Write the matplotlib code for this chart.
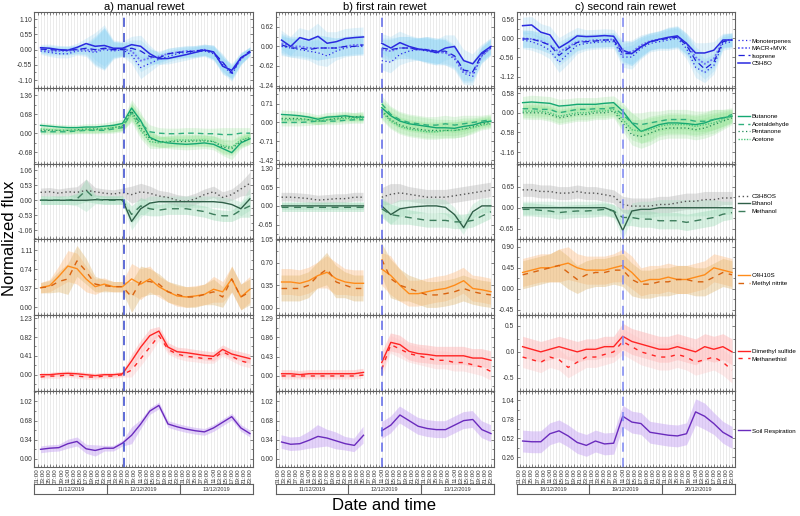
import numpy as np
import matplotlib.pyplot as plt
from matplotlib.ticker import MultipleLocator, AutoMinorLocator

plt.rcParams['font.family'] = ['Liberation Sans', 'DejaVu Sans']

# sample hours (0 = 00:00 of the first day, 3 days per panel)
hours = [2, 5, 8, 11, 14, 17, 20, 23, 26, 29, 32, 35, 38, 41, 44, 47, 50, 53, 56, 59, 62, 65, 68, 71]
nan = np.nan

titles = ['a) manual rewet', 'b) first rain rewet', 'c) second rain rewet']
days = [['11/12/2019', '12/12/2019', '13/12/2019'],
        ['11/12/2019', '12/12/2019', '13/12/2019'],
        ['18/12/2019', '19/12/2019', '20/12/2019']]
time_labels = ['%02d:00' % h for h in range(1, 24, 2)] * 3
rewet_hour = [29.5, 35, 35]

# ---- row 1: terpenes ----
mono_a = [-0.05, -0.1, -0.15, -0.15, -0.05, -0.05, -0.1, 0.0, -0.05, 0.0, -0.2, -0.65, -0.5, -0.35, -0.25, -0.15, -0.1, -0.08, -0.05, -0.15, -0.55, -0.9, -0.35, -0.05]
macr_a = [0.0, -0.05, -0.05, -0.05, 0.0, 0.0, -0.05, 0.05, 0.0, 0.02, -0.05, -0.4, -0.3, -0.25, -0.15, -0.1, -0.05, -0.05, 0.0, -0.1, -0.5, -0.8, -0.35, -0.05]
iso_a = [0.02, 0.0, -0.02, -0.02, 0.0, 0.05, 0.0, 0.05, 0.0, 0.0, 0.05, -0.05, -0.25, -0.3, -0.15, -0.1, -0.08, -0.05, 0.0, -0.1, -0.45, -0.85, -0.3, -0.05]
c5h8o_a = [0.07, 0.05, 0.0, -0.02, 0.08, 0.22, 0.12, 0.15, 0.05, 0.05, 0.18, 0.12, -0.15, -0.33, -0.32, -0.25, -0.18, -0.1, -0.02, -0.08, -0.6, -0.75, -0.3, -0.1]
spread_a1 = [0.12, 0.15, 0.15, 0.15, 0.15, 0.2, 0.5, 0.75, 0.3, 0.25, 0.3, 0.4, 0.3, 0.2, 0.2, 0.2, 0.2, 0.2, 0.2, 0.25, 0.3, 0.25, 0.2, 0.15]

mono_b = [0.0, -0.05, -0.1, -0.15, -0.2, -0.3, -0.15, -0.05, 0.0, 0.0, nan, -0.45, -0.5, -0.25, -0.15, -0.1, -0.15, -0.2, -0.2, -0.4, -0.85, -0.95, -0.3, -0.05]
macr_b = [0.1, 0.0, 0.0, -0.05, -0.05, -0.05, -0.05, 0.0, 0.05, 0.05, nan, -0.1, -0.15, -0.05, -0.05, -0.1, -0.1, -0.15, -0.2, -0.35, -0.8, -0.85, -0.3, -0.05]
iso_b = [0.05, -0.05, -0.05, -0.1, -0.05, -0.05, -0.05, 0.0, 0.0, 0.05, nan, -0.05, -0.1, -0.05, -0.05, -0.1, -0.1, -0.15, -0.15, -0.3, -0.75, -0.8, -0.25, 0.0]
c5h8o_b = [0.2, 0.0, 0.28, 0.2, 0.32, 0.1, 0.15, 0.25, 0.28, 0.3, nan, 0.1, -0.05, 0.12, 0.0, -0.08, -0.12, -0.2, -0.05, 0.0, -0.45, -0.55, -0.2, 0.0]
spread_b1 = [0.3, 0.3, 0.3, 0.3, 0.4, 0.35, 0.3, 0.3, 0.3, 0.3, nan, 0.3, 0.35, 0.35, 0.35, 0.35, 0.4, 0.4, 0.4, 0.35, 0.35, 0.3, 0.25, 0.25]

mono_c = [-0.05, -0.1, -0.2, -0.35, -0.7, -0.45, -0.2, -0.15, -0.12, -0.1, -0.1, -0.55, -0.55, -0.3, -0.15, -0.1, -0.05, 0.0, -0.3, -0.85, -1.0, -0.8, -0.15, -0.1]
macr_c = [0.0, -0.02, -0.08, -0.2, -0.4, -0.25, -0.1, -0.08, -0.05, -0.05, -0.03, -0.4, -0.4, -0.2, -0.08, -0.03, 0.0, 0.05, -0.15, -0.55, -0.75, -0.6, -0.08, -0.03]
iso_c = [-0.02, -0.02, -0.1, -0.2, -0.5, -0.3, -0.12, -0.1, -0.08, -0.05, -0.05, -0.45, -0.45, -0.25, -0.1, -0.05, 0.0, 0.03, -0.2, -0.65, -0.9, -0.7, -0.1, -0.05]
c5h8o_c = [0.37, 0.39, 0.18, 0.1, -0.28, -0.12, 0.07, 0.05, 0.06, 0.08, 0.06, -0.35, -0.45, -0.25, -0.1, -0.03, 0.03, 0.07, -0.15, -0.43, -0.43, -0.35, -0.05, -0.05]
spread_c1 = [0.25, 0.25, 0.25, 0.25, 0.3, 0.3, 0.25, 0.2, 0.2, 0.2, 0.2, 0.3, 0.35, 0.3, 0.25, 0.25, 0.3, 0.3, 0.3, 0.3, 0.3, 0.25, 0.2, 0.2]

# ---- row 2: carbonyls ----
but_a = [0.28, 0.25, 0.22, 0.2, 0.2, 0.22, 0.22, 0.25, 0.28, 0.35, 0.9, 0.45, -0.15, -0.3, -0.35, -0.38, -0.4, -0.38, -0.35, -0.4, -0.55, -0.7, -0.35, -0.2]
ald_a = [0.05, 0.05, 0.05, 0.05, 0.08, 0.1, 0.1, 0.1, 0.15, 0.2, 0.75, 0.35, 0.05, 0.0, -0.02, -0.02, 0.0, 0.0, -0.02, -0.02, -0.05, -0.05, 0.0, 0.0]
pen_a = [0.1, 0.1, 0.1, 0.1, 0.12, 0.15, 0.15, 0.15, 0.2, 0.25, 0.8, 0.2, -0.2, -0.3, -0.3, -0.3, -0.3, -0.28, -0.28, -0.3, -0.5, -0.55, -0.3, -0.2]
ace_a = [0.15, 0.12, 0.1, 0.1, 0.1, 0.12, 0.12, 0.15, 0.2, 0.25, 0.7, 0.1, -0.3, -0.35, -0.3, -0.25, -0.25, -0.25, -0.25, -0.3, -0.45, -0.5, -0.25, -0.15]
spread_a2 = [0.1, 0.1, 0.1, 0.1, 0.1, 0.12, 0.12, 0.12, 0.15, 0.15, 0.3, 0.3, 0.25, 0.2, 0.2, 0.2, 0.2, 0.2, 0.2, 0.2, 0.25, 0.25, 0.2, 0.2]

but_b = [0.3, 0.28, 0.25, 0.2, 0.12, 0.2, 0.22, 0.25, 0.2, 0.2, nan, 0.55, 0.25, 0.05, -0.05, -0.1, -0.15, -0.2, -0.2, -0.22, -0.15, -0.1, 0.0, 0.05]
ald_b = [0.0, 0.0, 0.0, 0.02, 0.05, 0.05, 0.05, 0.08, 0.1, 0.1, nan, 0.7, 0.3, 0.1, 0.0, -0.05, -0.1, -0.1, -0.05, -0.1, -0.05, 0.0, 0.05, 0.1]
pen_b = [0.15, 0.15, 0.15, 0.1, 0.05, 0.1, 0.15, 0.2, 0.2, 0.25, nan, 0.45, 0.1, -0.1, -0.2, -0.25, -0.3, -0.3, -0.3, -0.3, -0.25, -0.15, -0.05, 0.0]
ace_b = [0.1, 0.1, 0.1, 0.1, 0.05, 0.1, 0.12, 0.15, 0.15, 0.15, nan, 0.4, 0.05, -0.15, -0.25, -0.3, -0.35, -0.35, -0.3, -0.3, -0.25, -0.2, -0.1, -0.05]
spread_b2 = [0.15, 0.15, 0.15, 0.15, 0.15, 0.15, 0.15, 0.15, 0.15, 0.15, nan, 0.3, 0.3, 0.3, 0.3, 0.3, 0.3, 0.3, 0.3, 0.3, 0.3, 0.25, 0.2, 0.2]

but_c = [0.3, 0.32, 0.3, 0.28, 0.2, 0.22, 0.25, 0.25, 0.25, 0.28, 0.3, 0.05, -0.3, -0.55, -0.45, -0.35, -0.3, -0.3, -0.32, -0.35, -0.3, -0.2, -0.15, -0.1]
ald_c = [0.12, 0.12, 0.1, 0.1, 0.0, 0.05, 0.1, 0.1, 0.12, 0.12, 0.15, -0.05, -0.3, -0.35, -0.3, -0.25, -0.2, -0.2, -0.2, -0.25, -0.25, -0.2, -0.15, -0.05]
pen_c = [0.0, 0.0, 0.0, -0.05, -0.15, -0.1, -0.05, -0.05, 0.0, 0.0, 0.05, -0.3, -0.65, -0.7, -0.6, -0.5, -0.45, -0.45, -0.45, -0.5, -0.45, -0.35, -0.25, -0.15]
ace_c = [0.05, 0.05, 0.05, 0.0, -0.1, -0.05, 0.0, 0.0, 0.05, 0.05, 0.1, -0.2, -0.5, -0.55, -0.5, -0.4, -0.35, -0.35, -0.35, -0.4, -0.35, -0.3, -0.2, -0.1]
spread_c2 = [0.18, 0.2, 0.2, 0.2, 0.2, 0.2, 0.2, 0.2, 0.2, 0.2, 0.2, 0.25, 0.3, 0.35, 0.35, 0.3, 0.3, 0.3, 0.3, 0.3, 0.3, 0.3, 0.25, 0.2]

# ---- row 3: C3H8OS, ethanol, methanol ----
c3_a = [0.28, 0.3, 0.25, 0.3, 0.28, 0.35, 0.3, 0.25, 0.22, 0.28, 0.2, 0.3, 0.25, 0.15, 0.1, 0.0, -0.05, 0.05, 0.2, 0.3, 0.1, 0.2, 0.4, 0.6]
eth_a = [0.0, 0.0, 0.0, 0.0, 0.0, 0.0, 0.02, 0.02, 0.02, 0.02, -0.75, -0.3, -0.1, -0.05, -0.05, -0.05, -0.05, -0.05, -0.05, -0.05, -0.08, -0.15, -0.3, 0.05]
meo_a = [0.0, 0.0, 0.0, 0.0, 0.05, 0.35, 0.05, 0.0, 0.0, 0.0, -0.5, -0.2, -0.3, -0.35, -0.3, -0.3, -0.3, -0.35, -0.4, -0.5, -0.55, -0.55, -0.35, -0.2]
spread_a3 = [0.15, 0.15, 0.15, 0.15, 0.2, 0.4, 0.15, 0.15, 0.15, 0.15, 0.3, 0.3, 0.25, 0.2, 0.2, 0.2, 0.2, 0.2, 0.2, 0.2, 0.2, 0.2, 0.25, 0.4]

c3_b = [0.3, 0.3, 0.28, 0.25, 0.2, 0.22, 0.25, 0.25, 0.3, 0.3, nan, 0.3, 0.4, 0.45, 0.4, 0.35, 0.3, 0.3, 0.3, 0.35, 0.4, 0.45, 0.5, 0.55]
eth_b = [0.0, 0.0, 0.0, 0.0, 0.0, 0.0, 0.0, 0.0, 0.0, 0.0, nan, 0.0, -0.3, -0.1, -0.05, -0.02, 0.0, 0.0, -0.05, -0.3, -0.75, -0.2, 0.0, 0.0]
meo_b = [-0.05, -0.05, -0.05, -0.05, -0.05, -0.05, -0.05, -0.05, -0.05, -0.05, nan, -0.1, -0.3, -0.35, -0.4, -0.45, -0.5, -0.5, -0.5, -0.55, -0.55, -0.5, -0.35, -0.2]
spread_b3 = [0.15, 0.15, 0.15, 0.15, 0.15, 0.15, 0.15, 0.15, 0.15, 0.15, nan, 0.3, 0.35, 0.3, 0.25, 0.25, 0.25, 0.25, 0.25, 0.25, 0.25, 0.25, 0.25, 0.25]

c3_c = [0.55, 0.55, 0.5, 0.5, 0.45, 0.45, 0.5, 0.45, 0.45, 0.4, 0.35, 0.1, 0.05, 0.05, 0.05, 0.1, 0.1, 0.15, 0.2, 0.2, 0.25, 0.25, 0.3, 0.3]
eth_c = [0.0, 0.0, 0.0, 0.0, 0.0, 0.0, 0.0, 0.0, 0.0, 0.0, -0.1, -0.7, -0.1, -0.05, -0.05, 0.0, 0.0, 0.0, 0.0, 0.0, 0.0, 0.0, 0.0, 0.0]
meo_c = [-0.05, -0.05, -0.08, -0.1, -0.15, -0.12, -0.1, -0.1, -0.08, -0.05, -0.1, -0.3, -0.3, -0.35, -0.35, -0.4, -0.4, -0.4, -0.45, -0.4, -0.35, -0.3, -0.2, -0.15]
spread_c3 = [0.2, 0.2, 0.2, 0.2, 0.2, 0.2, 0.2, 0.2, 0.2, 0.2, 0.2, 0.25, 0.25, 0.25, 0.25, 0.25, 0.25, 0.25, 0.25, 0.25, 0.25, 0.25, 0.2, 0.2]

# ---- row 4: C4H10S, methyl nitrite ----
c4_a = [0.38, 0.42, 0.6, 0.8, 0.75, 0.55, 0.4, 0.45, 0.4, 0.4, 0.55, 0.45, 0.55, 0.4, 0.3, 0.22, 0.2, 0.22, 0.25, 0.35, 0.3, 0.55, 0.2, 0.35]
mno_a = [0.38, 0.4, 0.5, 0.55, 0.9, 0.7, 0.45, 0.42, 0.4, 0.4, 0.2, 0.5, 0.5, 0.45, 0.3, 0.25, 0.2, 0.2, 0.25, 0.3, 0.2, 0.55, 0.2, 0.3]
spread_a4 = [0.1, 0.12, 0.2, 0.3, 0.3, 0.25, 0.15, 0.12, 0.1, 0.1, 0.3, 0.3, 0.25, 0.2, 0.2, 0.2, 0.2, 0.2, 0.2, 0.25, 0.2, 0.25, 0.25, 0.25]

c4_b = [0.4, 0.4, 0.38, 0.42, 0.5, 0.55, 0.45, 0.4, 0.38, 0.38, nan, 0.6, 0.5, 0.35, 0.22, 0.22, 0.25, 0.28, 0.3, 0.35, 0.42, 0.3, 0.28, 0.25]
mno_b = [0.3, 0.3, 0.3, 0.35, 0.5, 0.6, 0.4, 0.35, 0.3, 0.3, nan, 0.75, 0.45, 0.35, 0.3, 0.25, 0.2, 0.2, 0.22, 0.25, 0.3, 0.25, 0.22, 0.2]
spread_b4 = [0.2, 0.2, 0.2, 0.2, 0.2, 0.25, 0.25, 0.2, 0.2, 0.2, nan, 0.25, 0.3, 0.25, 0.2, 0.2, 0.2, 0.2, 0.2, 0.2, 0.2, 0.2, 0.2, 0.2]

c4_c = [0.35, 0.4, 0.45, 0.45, 0.5, 0.55, 0.45, 0.4, 0.4, 0.4, 0.45, 0.5, 0.35, 0.15, 0.2, 0.2, 0.25, 0.2, 0.2, 0.25, 0.3, 0.45, 0.4, 0.35]
mno_c = [0.3, 0.35, 0.4, 0.45, 0.5, 0.35, 0.2, 0.3, 0.35, 0.35, 0.4, 0.4, 0.2, 0.1, 0.1, 0.15, 0.15, 0.2, 0.2, 0.15, 0.15, 0.25, 0.35, 0.3]
spread_c4 = [0.3, 0.3, 0.3, 0.3, 0.35, 0.35, 0.3, 0.3, 0.3, 0.3, 0.3, 0.35, 0.35, 0.3, 0.3, 0.3, 0.3, 0.3, 0.3, 0.3, 0.3, 0.3, 0.3, 0.3]

# ---- row 5: dimethyl sulfide, methanethiol ----
dms_a = [0.0, 0.0, 0.02, 0.03, 0.02, 0.0, -0.02, 0.0, 0.0, 0.02, 0.3, 0.6, 0.85, 0.95, 0.6, 0.5, 0.48, 0.45, 0.42, 0.4, 0.55, 0.45, 0.4, 0.35]
msh_a = [-0.05, -0.03, -0.03, 0.0, -0.03, -0.05, -0.05, -0.03, -0.03, 0.0, 0.1, 0.35, 0.6, 0.85, 0.55, 0.45, 0.4, 0.38, 0.35, 0.35, 0.5, 0.4, 0.3, 0.25]
spread_a5 = [0.05, 0.05, 0.05, 0.05, 0.05, 0.05, 0.05, 0.05, 0.05, 0.05, 0.15, 0.15, 0.15, 0.1, 0.1, 0.1, 0.1, 0.1, 0.1, 0.1, 0.1, 0.1, 0.1, 0.1]

dms_b = [0.05, 0.05, 0.03, 0.05, 0.05, 0.05, 0.05, 0.05, 0.05, 0.08, nan, 0.3, 0.75, 0.7, 0.55, 0.5, 0.48, 0.45, 0.45, 0.45, 0.45, 0.4, 0.4, 0.35]
msh_b = [0.0, 0.0, 0.0, 0.0, 0.0, 0.0, 0.0, 0.0, 0.0, 0.02, nan, 0.15, 0.7, 0.6, 0.5, 0.45, 0.4, 0.35, 0.35, 0.3, 0.3, 0.25, 0.2, 0.1]
spread_b5 = [0.08, 0.08, 0.08, 0.08, 0.08, 0.08, 0.08, 0.08, 0.08, 0.08, nan, 0.2, 0.2, 0.2, 0.2, 0.2, 0.2, 0.2, 0.2, 0.2, 0.2, 0.2, 0.2, 0.2]

dms_c = [0.1, 0.05, 0.0, 0.05, 0.1, 0.05, 0.0, 0.05, 0.05, 0.1, 0.1, 0.3, 0.2, 0.15, 0.1, 0.05, 0.05, 0.1, 0.05, 0.0, 0.1, 0.05, 0.1, 0.0]
msh_c = [-0.1, -0.15, -0.2, -0.1, -0.15, -0.3, -0.2, -0.1, -0.1, -0.05, 0.0, 0.2, 0.1, 0.0, -0.05, -0.1, -0.1, -0.05, -0.1, -0.2, -0.15, -0.1, -0.2, -0.35]
spread_c5 = [0.2, 0.2, 0.2, 0.2, 0.2, 0.2, 0.2, 0.2, 0.2, 0.2, 0.2, 0.25, 0.25, 0.25, 0.25, 0.25, 0.25, 0.25, 0.25, 0.25, 0.25, 0.25, 0.25, 0.25]

# ---- row 6: soil respiration ----
soil_a = [0.17, 0.19, 0.2, 0.27, 0.31, 0.18, 0.15, 0.19, 0.19, 0.28, 0.42, 0.62, 0.85, 0.95, 0.62, 0.57, 0.53, 0.5, 0.48, 0.55, 0.65, 0.75, 0.55, 0.45]
spread_a6 = [0.06, 0.06, 0.06, 0.08, 0.08, 0.08, 0.1, 0.05, 0.05, 0.05, 0.15, 0.08, 0.06, 0.06, 0.06, 0.06, 0.06, 0.06, 0.06, 0.06, 0.06, 0.06, 0.06, 0.06]
soil_b = [0.3, 0.26, 0.27, 0.33, 0.4, 0.37, 0.32, 0.27, 0.24, 0.42, nan, 0.5, 0.6, 0.78, 0.68, 0.58, 0.54, 0.52, 0.52, 0.6, 0.68, 0.7, 0.52, 0.45]
spread_b6 = [0.12, 0.12, 0.12, 0.15, 0.2, 0.15, 0.15, 0.12, 0.12, 0.15, nan, 0.15, 0.15, 0.15, 0.15, 0.15, 0.15, 0.15, 0.15, 0.15, 0.15, 0.15, 0.15, 0.15]
soil_c = [0.48, 0.47, 0.47, 0.58, 0.62, 0.55, 0.46, 0.42, 0.48, 0.44, 0.45, 0.82, 0.74, 0.72, 0.6, 0.58, 0.56, 0.55, 0.58, 0.88, 0.82, 0.72, 0.6, 0.53]
spread_c6 = [0.15, 0.15, 0.15, 0.15, 0.15, 0.15, 0.15, 0.15, 0.15, 0.15, 0.15, 0.15, 0.15, 0.15, 0.15, 0.15, 0.15, 0.15, 0.15, 0.18, 0.18, 0.15, 0.15, 0.15]

# y tick labels per panel (row, column)
yticks = [
    [['-1.10', '-0.55', '0.00', '0.55', '1.10'], ['-1.24', '-0.62', '0.00', '0.62'], ['-1.12', '-0.56', '0.00', '0.56']],
    [['-0.68', '0.00', '0.68', '1.36'], ['-1.42', '-0.71', '0.00', '0.71'], ['-1.16', '-0.58', '0.00', '0.58']],
    [['-1.06', '-0.53', '0.00', '0.53', '1.06'], ['-0.65', '0.00', '0.65', '1.30'], ['-0.65', '0.00', '0.65']],
    [['0.00', '0.37', '0.74', '1.11'], ['0.00', '0.35', '0.70', '1.05'], ['-0.45', '0.00', '0.45', '0.90']],
    [['0.00', '0.41', '0.82', '1.23'], ['0.00', '0.43', '0.86', '1.29'], ['-0.5', '0.0', '0.5']],
    [['0.00', '0.34', '0.68', '1.02'], ['0.00', '0.34', '0.68', '1.02'], ['0.26', '0.52', '0.78', '1.04']],
]
ylims = [
    [(-1.38, 1.36), (-1.31, 1.09), (-1.45, 0.77)],
    [(-1.09, 1.63), (-1.54, 1.30), (-1.50, 0.74)],
    [(-1.38, 1.30), (-1.15, 1.46), (-0.97, 1.36)],
    [(-0.15, 1.32), (-0.11, 1.06), (-0.56, 1.06)],
    [(-0.35, 1.30), (-0.33, 1.36), (-0.75, 0.71)],
    [(-0.135, 1.21), (-0.135, 1.21), (0.13, 1.17)],
]

# name, data per column, line colour, line style, width, band colour, band alpha
rows = [
    [('Monoterpenes', [mono_a, mono_b, mono_c], '#2b2be8', (0, (1, 2)), 0.9, '#7fcff5', 0.22),
     ('MACR+MVK', [macr_a, macr_b, macr_c], '#6f6ff5', (0, (1, 1)), 1.3, '#7fcff5', 0.22),
     ('Isoprene', [iso_a, iso_b, iso_c], '#2020d8', (0, (5, 3)), 0.9, '#7fcff5', 0.22),
     ('C5H8O', [c5h8o_a, c5h8o_b, c5h8o_c], '#2a2ae0', '-', 1.1, '#7fcff5', 0.22)],
    [('Butanone', [but_a, but_b, but_c], '#14a872', '-', 1.0, '#7be07b', 0.2),
     ('Acetaldehyde', [ald_a, ald_b, ald_c], '#2fb07d', (0, (4, 3)), 1.0, '#7be07b', 0.2),
     ('Pentanone', [pen_a, pen_b, pen_c], '#1f8a55', (0, (1, 2)), 0.9, '#7be07b', 0.2),
     ('Acetone', [ace_a, ace_b, ace_c], '#4cc77a', (0, (1, 1)), 1.0, '#7be07b', 0.2)],
    [('C3H8OS', [c3_a, c3_b, c3_c], '#555555', (0, (1, 2)), 1.0, '#b5b5b5', 0.4),
     ('Ethanol', [eth_a, eth_b, eth_c], '#2f5f48', '-', 1.0, '#9fe0bd', 0.3),
     ('Methanol', [meo_a, meo_b, meo_c], '#3d7d5c', (0, (5, 4)), 1.0, '#8fd8ae', 0.35)],
    [('C4H10S', [c4_a, c4_b, c4_c], '#ff8c1a', '-', 1.0, '#ffc48f', 0.45),
     ('Methyl nitrite', [mno_a, mno_b, mno_c], '#d9630f', (0, (4, 4)), 1.0, '#e2b870', 0.4)],
    [('Dimethyl sulfide', [dms_a, dms_b, dms_c], '#ff2424', '-', 1.0, '#ffb0b0', 0.45),
     ('Methanethiol', [msh_a, msh_b, msh_c], '#ff2424', (0, (3, 4)), 1.0, '#ffc4c4', 0.35)],
    [('Soil Respiration', [soil_a, soil_b, soil_c], '#6a2bbd', '-', 1.0, '#c9a6f5', 0.5)],
]
spreads = [[spread_a1, spread_b1, spread_c1], [spread_a2, spread_b2, spread_c2],
           [spread_a3, spread_b3, spread_c3], [spread_a4, spread_b4, spread_c4],
           [spread_a5, spread_b5, spread_c5], [spread_a6, spread_b6, spread_c6]]
rewet_colors = ['#3344cc', '#5c66e8', '#7b86f2']

fig = plt.figure(figsize=(8, 5.16), dpi=100)
gs = fig.add_gridspec(6, 3, left=0.0431, right=0.9188, top=0.9767, bottom=0.0959,
                      hspace=0, wspace=0.103)
x = np.array(hours)
frame = '#606060'

for r, series in enumerate(rows):
    for c in range(3):
        ax = fig.add_subplot(gs[r, c])
        s = np.array(spreads[r][c], float)
        for name, cols, lc, ls, lw, bc, ba in series:
            y = np.array(cols[c], float)
            ok = ~np.isnan(y)
            ax.fill_between(x, y - s, y + s, where=ok, color=bc, alpha=ba, lw=0)
        for name, cols, lc, ls, lw, bc, ba in series:
            ax.plot(x, cols[c], color=lc, ls=ls, lw=lw, label=name)
        ax.axvline(rewet_hour[c], color=rewet_colors[c], ls=(0, (6, 4)), lw=1.1)

        ax.set_xlim(0, 72)
        ax.set_ylim(*ylims[r][c])
        tl = yticks[r][c]
        ax.set_yticks([float(t) for t in tl])
        ax.set_yticklabels(tl)
        ax.yaxis.set_minor_locator(AutoMinorLocator(2))
        ax.set_xticks(range(1, 72, 2))
        ax.xaxis.set_minor_locator(MultipleLocator(1))
        ax.grid(which='both', axis='x', color='#e3e3e3', lw=0.5)
        ax.set_axisbelow(True)
        ax.tick_params(which='both', direction='in', top=True, right=True, color='#505050',
                       width=0.5, labelsize=4.8, pad=1.5, labelcolor='#333333')
        ax.tick_params(which='major', length=2.2)
        ax.tick_params(which='minor', length=1.6)
        for sp in ax.spines.values():
            sp.set_color(frame)
            sp.set_linewidth(0.8)
        if r == 0:
            ax.set_title(titles[c], fontsize=8, pad=1.5)
        if r == 5:
            ax.set_xticklabels(time_labels, rotation=90, fontsize=4.5)
            ax.tick_params(axis='x', pad=1)
            pos = ax.get_position()
            dax = fig.add_axes([pos.x0, 0.0426, pos.width, 0.0194])
            dax.set_xlim(0, 72)
            dax.set_ylim(0, 1)
            dax.set_xticks([])
            dax.set_yticks([])
            for b in (24, 48):
                dax.axvline(b, color=frame, lw=0.8)
            for i, d in enumerate(days[c]):
                dax.text(12 + 24 * i, 0.5, d, ha='center', va='center', fontsize=4, color='#333333')
            for sp in dax.spines.values():
                sp.set_color(frame)
                sp.set_linewidth(0.8)
        else:
            ax.tick_params(axis='x', labelbottom=False)
        if c == 2:
            ax.legend(loc='center left', bbox_to_anchor=(1.0, 0.47), frameon=False,
                      fontsize=4.5, handlelength=2.0, handletextpad=0.25,
                      labelspacing=0.35, borderaxespad=0.0, borderpad=0.4)

fig.text(0.012, 0.539, 'Normalized flux', rotation=90, ha='center', va='center', fontsize=12)
fig.text(0.48, 0.021, 'Date and time', ha='center', va='center', fontsize=12)

fig.savefig('out.png', dpi=100)
